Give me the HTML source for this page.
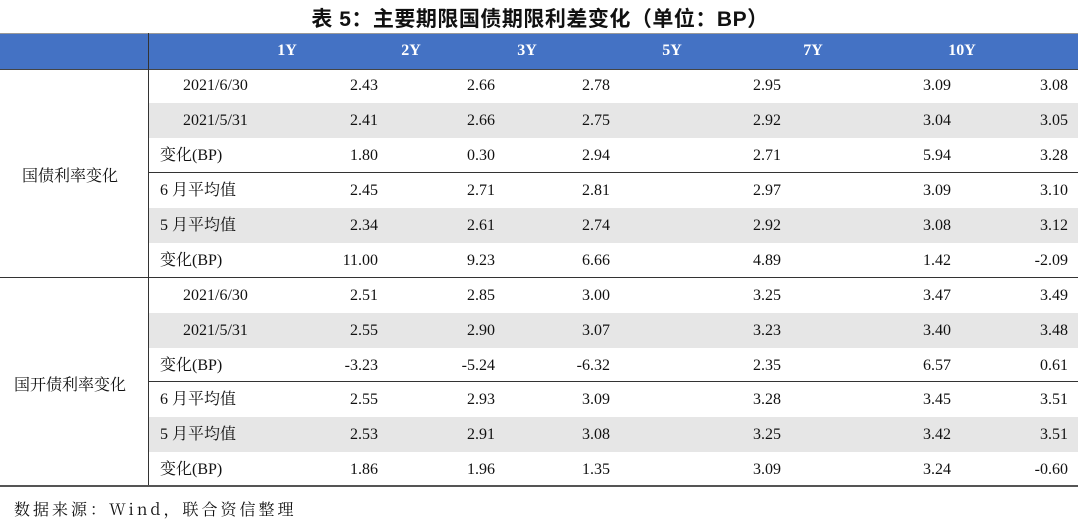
<!DOCTYPE html>
<html><head><meta charset="utf-8"><style>
body{margin:0;width:1080px;height:522px;background:#fff;position:relative;overflow:hidden;font-family:"Liberation Serif","Noto Serif CJK SC",serif;color:#111}
.a{position:absolute}
.t{left:0;width:1080px;text-align:center;top:3px;font-size:21px;font-weight:bold;font-family:"Liberation Sans","Noto Sans CJK SC",sans-serif;letter-spacing:0.5px}
.hd{left:0;top:33px;width:1078px;height:35px;background:#4472C4;border-top:1px solid #999;border-bottom:1px solid #444}
.hl{top:42px;color:#fff;font-weight:bold;font-size:16px;transform:translateX(-50%)}
.g{left:148px;width:930px;height:35px;background:#e6e6e6}
.r{height:35px;line-height:35px;font-size:16px;left:0;width:1080px}
.r span{position:absolute;text-align:right;width:100px}
.r .l{text-align:left;width:auto}
.c1{left:278px}.c2{left:395px}.c3{left:510px}.c4{left:681px}.c5{left:851px}.c6{left:968px}
.cj{font-family:"Noto Serif CJK SC","Liberation Serif",serif}
</style></head><body>
<div class="a t">表 5：主要期限国债期限利差变化（单位：BP）</div>
<div class="a hd"></div>
<div class="a hl" style="left:287px">1Y</div>
<div class="a hl" style="left:411px">2Y</div>
<div class="a hl" style="left:527px">3Y</div>
<div class="a hl" style="left:672px">5Y</div>
<div class="a hl" style="left:813px">7Y</div>
<div class="a hl" style="left:962px">10Y</div>
<div class="a g" style="top:103px"></div>
<div class="a g" style="top:208px"></div>
<div class="a g" style="top:313px"></div>
<div class="a g" style="top:417px"></div>
<div class="a" style="left:148px;top:33px;width:1px;height:453px;background:#333"></div>
<div class="a" style="left:148px;top:172px;width:930px;height:1px;background:#333"></div>
<div class="a" style="left:0;top:277px;width:1078px;height:1px;background:#333"></div>
<div class="a" style="left:148px;top:381px;width:930px;height:1px;background:#333"></div>
<div class="a" style="left:0;top:485px;width:1078px;height:2px;background:#555"></div>
<div class="a cj" style="left:22px;top:163px;font-size:16px">国债利率变化</div>
<div class="a cj" style="left:14px;top:372px;font-size:16px">国开债利率变化</div>

<div class="a r" style="top:68px"><span class="l" style="left:183px">2021/6/30</span><span class="c1">2.43</span><span class="c2">2.66</span><span class="c3">2.78</span><span class="c4">2.95</span><span class="c5">3.09</span><span class="c6">3.08</span></div>
<div class="a r" style="top:103px"><span class="l" style="left:183px">2021/5/31</span><span class="c1">2.41</span><span class="c2">2.66</span><span class="c3">2.75</span><span class="c4">2.92</span><span class="c5">3.04</span><span class="c6">3.05</span></div>
<div class="a r" style="top:138px"><span class="l" style="left:160px">变化(BP)</span><span class="c1">1.80</span><span class="c2">0.30</span><span class="c3">2.94</span><span class="c4">2.71</span><span class="c5">5.94</span><span class="c6">3.28</span></div>
<div class="a r" style="top:173px"><span class="l" style="left:160px">6 月平均值</span><span class="c1">2.45</span><span class="c2">2.71</span><span class="c3">2.81</span><span class="c4">2.97</span><span class="c5">3.09</span><span class="c6">3.10</span></div>
<div class="a r" style="top:208px"><span class="l" style="left:160px">5 月平均值</span><span class="c1">2.34</span><span class="c2">2.61</span><span class="c3">2.74</span><span class="c4">2.92</span><span class="c5">3.08</span><span class="c6">3.12</span></div>
<div class="a r" style="top:243px"><span class="l" style="left:160px">变化(BP)</span><span class="c1">11.00</span><span class="c2">9.23</span><span class="c3">6.66</span><span class="c4">4.89</span><span class="c5">1.42</span><span class="c6">-2.09</span></div>
<div class="a r" style="top:278px"><span class="l" style="left:183px">2021/6/30</span><span class="c1">2.51</span><span class="c2">2.85</span><span class="c3">3.00</span><span class="c4">3.25</span><span class="c5">3.47</span><span class="c6">3.49</span></div>
<div class="a r" style="top:313px"><span class="l" style="left:183px">2021/5/31</span><span class="c1">2.55</span><span class="c2">2.90</span><span class="c3">3.07</span><span class="c4">3.23</span><span class="c5">3.40</span><span class="c6">3.48</span></div>
<div class="a r" style="top:348px"><span class="l" style="left:160px">变化(BP)</span><span class="c1">-3.23</span><span class="c2">-5.24</span><span class="c3">-6.32</span><span class="c4">2.35</span><span class="c5">6.57</span><span class="c6">0.61</span></div>
<div class="a r" style="top:382px"><span class="l" style="left:160px">6 月平均值</span><span class="c1">2.55</span><span class="c2">2.93</span><span class="c3">3.09</span><span class="c4">3.28</span><span class="c5">3.45</span><span class="c6">3.51</span></div>
<div class="a r" style="top:417px"><span class="l" style="left:160px">5 月平均值</span><span class="c1">2.53</span><span class="c2">2.91</span><span class="c3">3.08</span><span class="c4">3.25</span><span class="c5">3.42</span><span class="c6">3.51</span></div>
<div class="a r" style="top:452px"><span class="l" style="left:160px">变化(BP)</span><span class="c1">1.86</span><span class="c2">1.96</span><span class="c3">1.35</span><span class="c4">3.09</span><span class="c5">3.24</span><span class="c6">-0.60</span></div>
<div class="a cj" style="left:14px;top:497px;font-size:16px;letter-spacing:3px">数据来源：Wind，联合资信整理</div>
</body></html>
